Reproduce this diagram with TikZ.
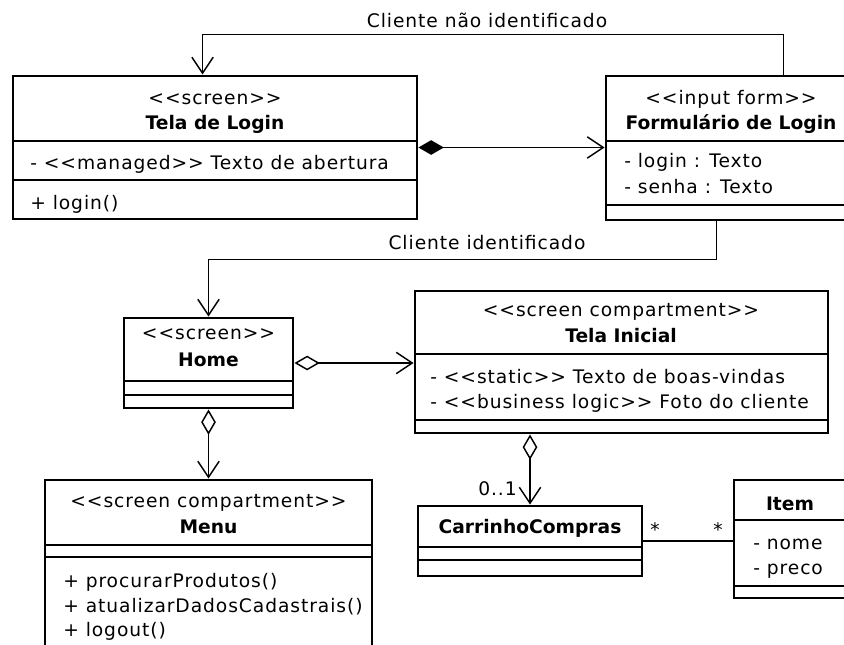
\documentclass[tikz,border=0pt]{standalone}
\usepackage{fontspec}
\setmainfont{DejaVu Sans}
\newfontfamily\umlr{DejaVu Sans}[LetterSpace=5]
\newfontfamily\umlb{DejaVu Sans}
\usetikzlibrary{arrows.meta,fit,calc}
\begin{document}
\begin{tikzpicture}[x=0.75pt,y=-0.75pt,
  box/.style={draw, line width=2.2pt, inner sep=0pt},
  div/.style={line width=1.1pt},
  conn/.style={line width=1.1pt},
  txt/.style={font=\umlr\fontsize{14}{16}\selectfont, inner sep=0pt},
  btxt/.style={font=\umlb\bfseries\fontsize{14}{16}\selectfont, inner sep=0pt},
  nav/.style={conn, -{Straight Barb[length=12pt,width=16pt,line width=1.1pt]}},
  agg/.style={conn, {Diamond[open,length=19pt,width=11pt,line width=1.1pt]}-{Straight Barb[length=12pt,width=16pt,line width=1.1pt]}},
  comp/.style={conn, {Diamond[length=19pt,width=11pt]}-{Straight Barb[length=12pt,width=16pt,line width=1.1pt]}},
]
\clip (0,0) rectangle (844,644);

% ---- boxes
\node[box, fit={(13,76) (417,219)}] (login) {};
\draw[div] (13,141) -- (417,141);
\draw[div] (13,180) -- (417,180);

\node[box, fit={(606,76) (870,220)}] (form) {};
\draw[div] (606,141) -- (870,141);
\draw[div] (606,205) -- (870,205);

\node[box, fit={(124,318) (293,408)}] (home) {};
\draw[div] (124,381) -- (293,381);
\draw[div] (124,395) -- (293,395);

\node[box, fit={(415,291) (828,433)}] (inicial) {};
\draw[div] (415,354) -- (828,354);
\draw[div] (415,420) -- (828,420);

\node[box, fit={(45,480) (372,700)}] (menu) {};
\draw[div] (45,545) -- (372,545);
\draw[div] (45,557) -- (372,557);

\node[box, fit={(418,506) (642,576)}] (carr) {};
\draw[div] (418,547) -- (642,547);
\draw[div] (418,560) -- (642,560);

\node[box, fit={(734,480) (870,598)}] (item) {};
\draw[div] (734,520) -- (870,520);
\draw[div] (734,586) -- (870,586);

% ---- texts
\node[txt, anchor=base] (loginS) at (215,104) {<{}<screen>{}>};
\node[btxt, anchor=base] (loginN) at (215,129) {Tela de Login};
\node[txt, anchor=base west] (loginA) at (30,169) {- <{}<managed>{}> Texto de abertura};
\node[txt, anchor=base west] (loginM) at (30,209) {+ login()};

\node[txt, anchor=base] (formS) at (731,104) {<{}<input form>{}>};
\node[btxt, anchor=base] (formN) at (731,129) {Formulário de Login};
\node[txt, anchor=base west] (formA1) at (624,167) {- login : Texto};
\node[txt, anchor=base west] (formA2) at (624,193) {- senha : Texto};

\node[txt, anchor=base] (homeS) at (208.5,339) {<{}<screen>{}>};
\node[btxt, anchor=base] (homeN) at (208.5,366) {Home};

\node[txt, anchor=base] (iniS) at (621,316) {<{}<screen compartment>{}>};
\node[btxt, anchor=base] (iniN) at (621,342) {Tela Inicial};
\node[txt, anchor=base west] (iniA1) at (430,383) {- <{}<static>{}> Texto de boas-vindas};
\node[txt, anchor=base west] (iniA2) at (430,408) {- <{}<business logic>{}> Foto do cliente};

\node[txt, anchor=base] (menuS) at (208.5,507) {<{}<screen compartment>{}>};
\node[btxt, anchor=base] (menuN) at (208.5,533) {Menu};
\node[txt, anchor=base west] (menuM1) at (63,587) {+ procurarProdutos()};
\node[txt, anchor=base west] (menuM2) at (63,612) {+ atualizarDadosCadastrais()};
\node[txt, anchor=base west] (menuM3) at (63,636) {+ logout()};

\node[btxt, anchor=base] (carrN) at (530,533) {CarrinhoCompras};

\node[btxt, anchor=base] (itemN) at (790,510) {Item};
\node[txt, anchor=base west] (itemA1) at (753,549) {- nome};
\node[txt, anchor=base west] (itemA2) at (753,574) {- preco};

% ---- connectors
\draw[nav] ($(form.north west)+(179,0)$) -- ++(0,-40) -| ($(login.north west)+(191,0)$);
\node[txt, anchor=base] (lbl1) at (487,27) {Cliente não identificado};

\draw[comp] (login.east) -- (login.east -| form.west);

\draw[nav] ($(form.south west)+(112,0)$) -- ++(0,38) -| (home.north);
\node[txt, anchor=base] (lbl2) at (487,249) {Cliente identificado};

\draw[agg] (home.east) -- (home.east -| inicial.west);
\draw[agg] (home.south) -- (menu.north);
\draw[agg] (inicial.south -| carr.north) -- (carr.north);
\node[txt, anchor=base east] (m01) at (517,495) {0..1};

\draw[conn] (carr.east) -- (carr.east -| item.west);
\node[txt] (m1) at (655,530) {*};
\node[txt] (m2) at (718,530) {*};
\end{tikzpicture}
\end{document}
